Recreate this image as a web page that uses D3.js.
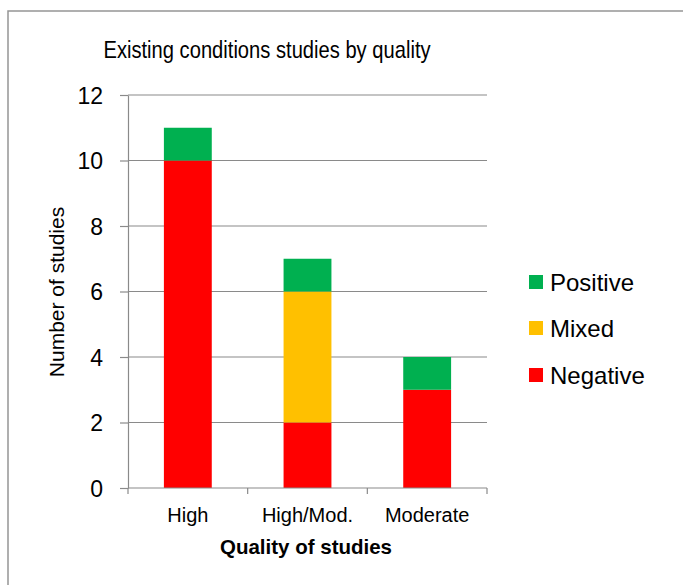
<!DOCTYPE html>
<html>
<head>
<meta charset="utf-8">
<script src="https://cdn.jsdelivr.net/npm/d3@7"></script>
<style>
  body { margin: 0; background: #fff; }
  svg text { font-family: "Liberation Sans", Arial, sans-serif; fill: #000; }
</style>
</head>
<body>
<svg id="chart" width="683" height="585"></svg>
<script>
// data
const categories = ["High", "High/Mod.", "Moderate"]
const negative = [10, 2, 3]
const mixed = [0, 4, 0]
const positive = [1, 1, 1]
const seriesNames = ["Negative", "Mixed", "Positive"]
const seriesColors = ["#FF0000", "#FFC000", "#00B050"]
const yTicks = [0, 2, 4, 6, 8, 10, 12]

let rows = categories.map((c, i) => ({cat: c, Negative: negative[i], Mixed: mixed[i], Positive: positive[i]}))
let stacked = d3.stack().keys(seriesNames)(rows)

let svg = d3.select("#chart")

// outer frame
svg.append("rect")
    .attr("x", 8).attr("y", 11)
    .attr("width", 700).attr("height", 600)
    .attr("fill", "none").attr("stroke", "#959595").attr("stroke-width", 1.5)

let x = d3.scaleBand().domain(categories).range([128, 487]).paddingInner(0.6).paddingOuter(0.3)
let y = d3.scaleLinear().domain([0, 12]).range([488, 95])

// gridlines
svg.append("g").selectAll("line")
    .data(yTicks.slice(1))
    .enter().append("line")
    .attr("x1", 128).attr("x2", 487)
    .attr("y1", d => y(d)).attr("y2", d => y(d))
    .attr("stroke", "#8a8a8a").attr("stroke-width", 1.2)

// bars
svg.append("g").selectAll("g")
    .data(stacked)
    .enter().append("g")
    .attr("fill", (d, i) => seriesColors[i])
    .selectAll("rect")
    .data(d => d.filter(p => p[1] > p[0]))
    .enter().append("rect")
    .attr("x", d => x(d.data.cat))
    .attr("width", x.bandwidth())
    .attr("y", d => y(d[1]))
    .attr("height", d => y(d[0]) - y(d[1]))

// y axis
let yAxis = svg.append("g")
    .attr("transform", "translate(128,0)")
    .call(d3.axisLeft(y).tickValues(yTicks).tickSize(8).tickPadding(17).tickSizeOuter(0))
yAxis.select(".domain").attr("stroke", "#8a8a8a").attr("stroke-width", 1.2)
yAxis.selectAll(".tick line").attr("stroke", "#8a8a8a").attr("stroke-width", 1.2)
yAxis.selectAll(".tick text").style("font-size", "23px").attr("dy", "0.36em")

// x axis
let bounds = [0, 1, 2, 3].map(i => 128 + i * (487 - 128) / 3)
let xAxis = svg.append("g")
    .attr("transform", "translate(0,488)")
xAxis.append("line")
    .attr("x1", 128).attr("x2", 487)
    .attr("stroke", "#8a8a8a").attr("stroke-width", 1.2)
xAxis.selectAll(".tk")
    .data(bounds)
    .enter().append("line")
    .attr("x1", d => d).attr("x2", d => d)
    .attr("y1", 0).attr("y2", 6)
    .attr("stroke", "#8a8a8a").attr("stroke-width", 1.2)
xAxis.selectAll(".lbl")
    .data(categories)
    .enter().append("text")
    .attr("x", d => x(d) + x.bandwidth() / 2)
    .attr("y", 34)
    .attr("text-anchor", "middle")
    .style("font-size", "20px")
    .text(d => d)

// titles
svg.append("text")
    .attr("transform", "translate(267,58) scale(0.84,1)")
    .attr("text-anchor", "middle")
    .style("font-size", "24px")
    .text("Existing conditions studies by quality")

svg.append("text")
    .attr("x", 306).attr("y", 554)
    .attr("text-anchor", "middle")
    .style("font-size", "20.5px").style("font-weight", "bold")
    .text("Quality of studies")

svg.append("text")
    .attr("transform", "translate(64,292) rotate(-90)")
    .attr("text-anchor", "middle")
    .style("font-size", "21px")
    .text("Number of studies")

// legend (top to bottom: Positive, Mixed, Negative)
let legendY = [282, 328, 375]
let legend = svg.append("g").selectAll("g")
    .data(seriesNames.slice().reverse())
    .enter().append("g")
    .attr("transform", (d, i) => `translate(529,${legendY[i]})`)
legend.append("rect")
    .attr("x", 0).attr("y", -7)
    .attr("width", 14).attr("height", 14)
    .attr("fill", d => seriesColors[seriesNames.indexOf(d)])
legend.append("text")
    .attr("x", 21).attr("dy", "0.36em")
    .style("font-size", "24px")
    .text(d => d)
</script>
</body>
</html>
